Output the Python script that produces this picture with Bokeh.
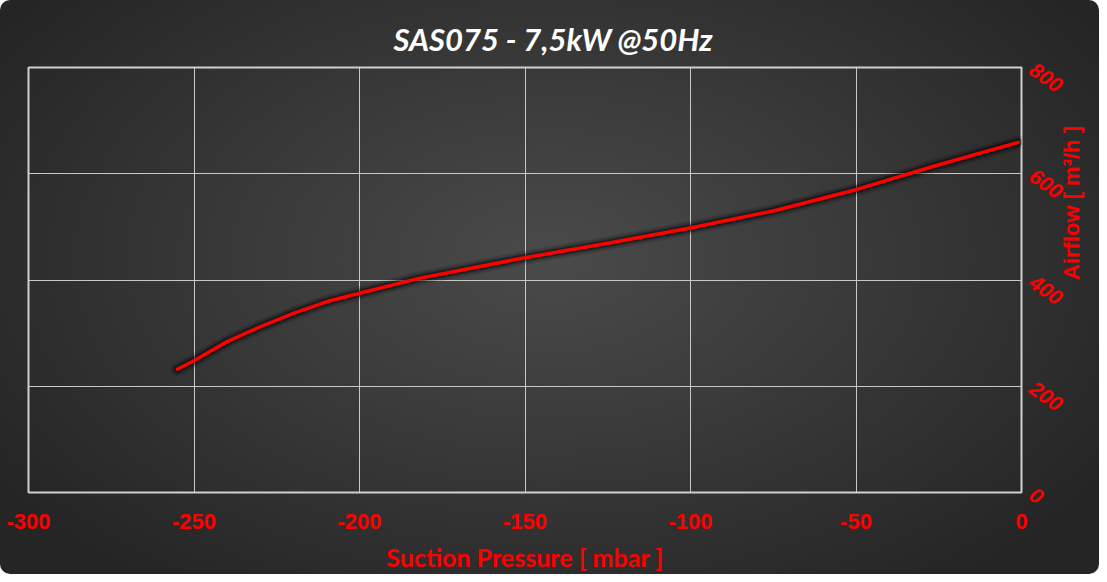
import math
from bokeh.plotting import figure
from bokeh.embed import file_html
from bokeh.resources import INLINE
from bokeh.models import FixedTicker, Range1d

# Data
pressure_mbar = [-255, -250, -240, -230, -220, -210, -200, -182, -150, -125, -100, -75, -50, -26, -1]
airflow_m3h = [232, 248, 284, 312, 337, 359, 375, 403, 442, 469, 498, 530, 570, 615, 659]
x_ticks = [-300, -250, -200, -150, -100, -50, 0]
y_ticks = [0, 200, 400, 600, 800]
title_text = "SAS075 - 7,5kW @50Hz"
x_label = "Suction Pressure [ mbar ]"
y_label = "Airflow [ m³/h ]"

p = figure(width=1099, height=574, output_backend="svg", toolbar_location=None,
           x_range=Range1d(-300, 0), y_range=Range1d(0, 800),
           y_axis_location="right", title=title_text,
           min_border_left=28, min_border_right=78, min_border_top=67, min_border_bottom=82)

p.styles = {"background": "radial-gradient(ellipse 60% 70% at 50% 45%, #4a4a4a 0%, #3a3a3a 45%, #252525 100%)",
            "border-radius": "10px"}
p.border_fill_alpha = 0
p.background_fill_alpha = 0
p.outline_line_color = "#d0d0d0"
p.outline_line_width = 2

p.title.text_color = "white"
p.title.text_font = "Lato"
p.title.text_font_style = "bold italic"
p.title.text_font_size = "31px"
p.title.align = "left"
p.title.offset = 365
p.title.vertical_align = "top"
p.title.standoff = 16

p.xgrid.grid_line_color = "#c8c8c8"
p.ygrid.grid_line_color = "#c8c8c8"
p.xgrid.grid_line_width = 1
p.ygrid.grid_line_width = 1

xa = p.xaxis[0]
xa.ticker = FixedTicker(ticks=x_ticks)
xa.major_label_overrides = {t: str(t) for t in x_ticks}
xa.axis_line_color = None
xa.major_tick_line_color = None
xa.minor_tick_line_color = None
xa.major_label_text_color = "#ff0000"
xa.major_label_text_font = "Liberation Sans"
xa.major_label_text_font_style = "bold"
xa.major_label_text_font_size = "22px"
xa.major_label_standoff = 15
xa.axis_label = x_label
xa.axis_label_text_color = "#ff0000"
xa.axis_label_text_font = "Lato"
xa.axis_label_text_font_style = "bold"
xa.axis_label_text_font_size = "25px"
xa.axis_label_standoff = 10

ya = p.yaxis[0]
ya.ticker = FixedTicker(ticks=y_ticks)
ya.axis_line_color = None
ya.major_tick_line_color = None
ya.minor_tick_line_color = None
ya.major_label_text_color = "#ff0000"
ya.major_label_text_font = "Liberation Sans"
ya.major_label_text_font_style = "bold italic"
ya.major_label_text_font_size = "21px"
ya.major_label_orientation = -0.62
ya.major_label_standoff = 4
ya.axis_label = y_label
ya.axis_label_text_color = "#ff0000"
ya.axis_label_text_font = "Liberation Sans"
ya.axis_label_text_font_style = "bold"
ya.axis_label_text_font_size = "22px"
ya.axis_label_standoff = 0
if hasattr(ya, "axis_label_orientation"):
    ya.axis_label_orientation = math.pi / 2

# soft black shadow under the curve
for w, a in [(14, 0.12), (10, 0.2), (7, 0.35)]:
    p.line(pressure_mbar, airflow_m3h, line_color="black", line_width=w, line_alpha=a,
           line_cap="round", line_join="round")
p.line(pressure_mbar, airflow_m3h, line_color="#ff0000", line_width=3.5,
       line_cap="round", line_join="round")

open("out.html", "w").write(file_html(p, INLINE))
